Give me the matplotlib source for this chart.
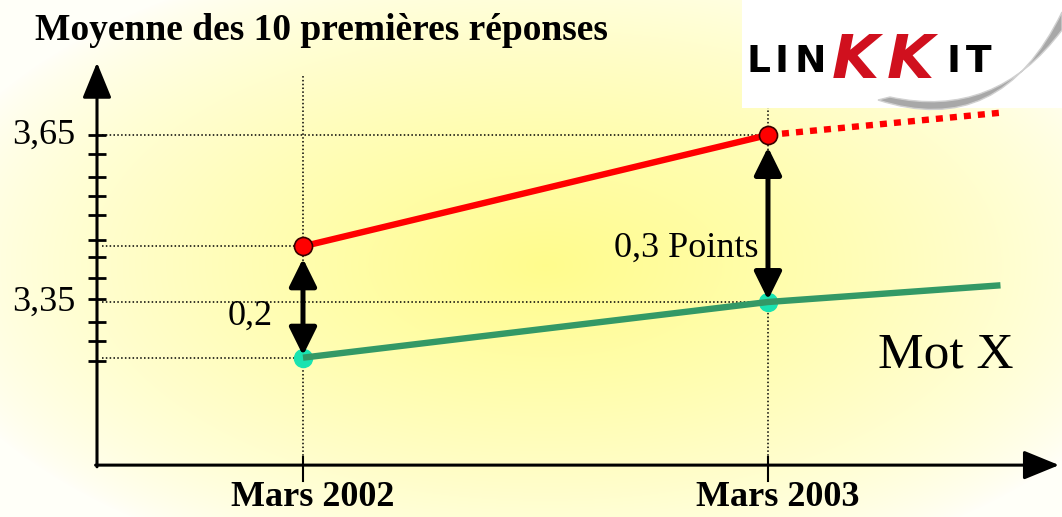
import numpy as np
import matplotlib.pyplot as plt
from matplotlib.patches import Rectangle, PathPatch
from matplotlib.path import Path

# ─── Data ─────────────────────────────────────────────────────────────────────

periods = ['Mars 2002', 'Mars 2003']
period_pos = [0.0, 1.0]
mot_x = [3.25, 3.35]            # green series (Mot X)
reference = [3.45, 3.65]        # red series
trend_end_x = 1.5
mot_x_trend = 3.38              # where the green line runs out to
reference_trend = 3.69          # dotted continuation of the red line
gaps = ['0,2', '0,3 Points']
ytick_labels = ['3,65', '3,35']
ytick_label_values = [3.65, 3.35]
minor_ticks = [3.650, 3.616, 3.575, 3.540, 3.506, 3.461, 3.431,
               3.393, 3.355, 3.314, 3.280, 3.244]
title = 'Moyenne des 10 premières réponses'

# ─── Figure ───────────────────────────────────────────────────────────────────

W, H = 1062, 517
fig = plt.figure(figsize=(W / 100, H / 100), dpi=100)

# soft yellow glow behind the chart
bg = fig.add_axes([0, 0, 1, 1])
bg.set_axis_off()
yy, xx = np.mgrid[0:H, 0:W]
r = np.sqrt(((xx - 545) / 640.0) ** 2 + ((yy - 265) / 330.0) ** 2)
w = np.clip(1 - r, 0, 1) ** 0.75
img = np.ones((H, W, 3))
img[..., 2] = 0.975 - 0.42 * w
img[..., 1] = 1.0 - 0.01 * w
bg.imshow(img, extent=(0, W, H, 0), aspect='auto')
bg.set_xlim(0, W)
bg.set_ylim(H, 0)

ax = fig.add_axes([0, 0, 1, 1])
ax.patch.set_alpha(0)
ax.set_axis_off()
ax.set_xlim(-0.6516, 1.6323)
ax.set_ylim(2.9638, 3.8925)

serif = 'Liberation Serif'
x_axis_y = 3.057
y_axis_x = -0.443

# axes with arrow heads
arrow_kw = dict(arrowstyle='-|>,head_length=1.1,head_width=0.45', lw=2.2,
                color='black', shrinkA=0, shrinkB=0, mutation_scale=20)
ax.annotate('', xy=(y_axis_x, 3.780), xytext=(y_axis_x, x_axis_y - 0.003),
            arrowprops=arrow_kw)
ax.annotate('', xy=(1.626, x_axis_y), xytext=(y_axis_x - 0.003, x_axis_y),
            arrowprops=arrow_kw)

# hand-drawn looking ticks on the value axis
for v in minor_ticks:
    ax.plot([-0.463, -0.424], [v, v], color='black', lw=2, solid_capstyle='butt')

# ticks on the time axis
for xp in period_pos:
    ax.plot([xp, xp], [x_axis_y + 0.015, x_axis_y - 0.028], color='black', lw=1.5)

# dotted guide lines
dot = dict(color='black', lw=1.1, linestyle=(0, (1, 1.5)))
for xp in period_pos:
    ax.plot([xp, xp], [x_axis_y - 0.01, 3.76], **dot)
for xp, v in zip(period_pos, reference):
    ax.plot([y_axis_x + 0.01, xp], [v, v], **dot)
for xp, v in zip(period_pos, mot_x):
    ax.plot([y_axis_x + 0.01, xp], [v, v], **dot)

# series
ax.plot(period_pos, reference, color='#ff0000', lw=4.6, solid_capstyle='round', zorder=4)
ax.plot([period_pos[1], trend_end_x], [reference[1], reference_trend],
        color='#ff0000', lw=4.6, linestyle=(0, (1.1, 1.1)), zorder=4)
ax.plot(period_pos, mot_x, linestyle='none', marker='o', ms=13,
        color='#19e3b0', zorder=3)
ax.plot([period_pos[0], period_pos[1], trend_end_x], [mot_x[0], mot_x[1], mot_x_trend],
        color='#339966', lw=4.6, solid_capstyle='butt', zorder=4)
ax.plot(period_pos, reference, linestyle='none', marker='o', ms=13,
        color='#ff0000', mec='#3a0000', mew=1.2, zorder=5)

# gap arrows between the two series
gap_kw = dict(arrowstyle='<|-|>,head_length=0.85,head_width=0.42', lw=3.6,
              color='black', shrinkA=0, shrinkB=0, mutation_scale=20)
for xp, top, bot in zip(period_pos, reference, mot_x):
    ax.annotate('', xy=(xp, top - 0.022), xytext=(xp, bot + 0.004),
                arrowprops=gap_kw, zorder=6)

# text
ax.text(-0.114, 3.325, gaps[0], fontsize=26, family=serif, ha='center', va='center')
ax.text(0.824, 3.447, gaps[1], fontsize=26, family=serif, ha='center', va='center')
ax.text(1.383, 3.255, 'Mot X', fontsize=37, family=serif, ha='center', va='center')
for lbl, v in zip(ytick_labels, ytick_label_values):
    ax.text(-0.490, v, lbl, fontsize=26, family=serif, ha='right', va='center')
for lbl, xp in zip(periods, period_pos):
    ax.text(xp + 0.02, 2.999, lbl, fontsize=26, family=serif, weight='bold',
            ha='center', va='center')
ax.text(0.039, 3.837, title, fontsize=27, family=serif, weight='bold',
        ha='center', va='center')

# LINKKIT logo in the top right corner
logo = fig.add_axes([0, 0, 1, 1])
logo.set_axis_off()
logo.patch.set_alpha(0)
logo.set_xlim(0, W)
logo.set_ylim(H, 0)
logo.add_patch(Rectangle((742, 0), W - 742, 108, facecolor='white', edgecolor='none'))
swoosh = Path([(878, 100), (1000, 140), (1062, 12), (1062, 30), (995, 120), (890, 97), (878, 100)],
              [Path.MOVETO, Path.CURVE3, Path.CURVE3, Path.LINETO, Path.CURVE3, Path.CURVE3,
               Path.CLOSEPOLY])
logo.add_patch(PathPatch(swoosh, facecolor='#a8a8a8', edgecolor='#d0d0d0', lw=1))
letters = [('L', 758, 'black', 27), ('I', 782, 'black', 27), ('N', 810, 'black', 27),
           ('K', 855, '#d0101e', 44), ('K', 910, '#d0101e', 44),
           ('I', 953, 'black', 27), ('T', 979, 'black', 27)]
for ch, xc, col, size in letters:
    logo.text(xc, 62, ch, color=col, fontsize=size, family='DejaVu Sans',
              weight='heavy', ha='center', va='center',
              style='italic' if col != 'black' else 'normal')

fig.savefig('out.png', dpi=100)
